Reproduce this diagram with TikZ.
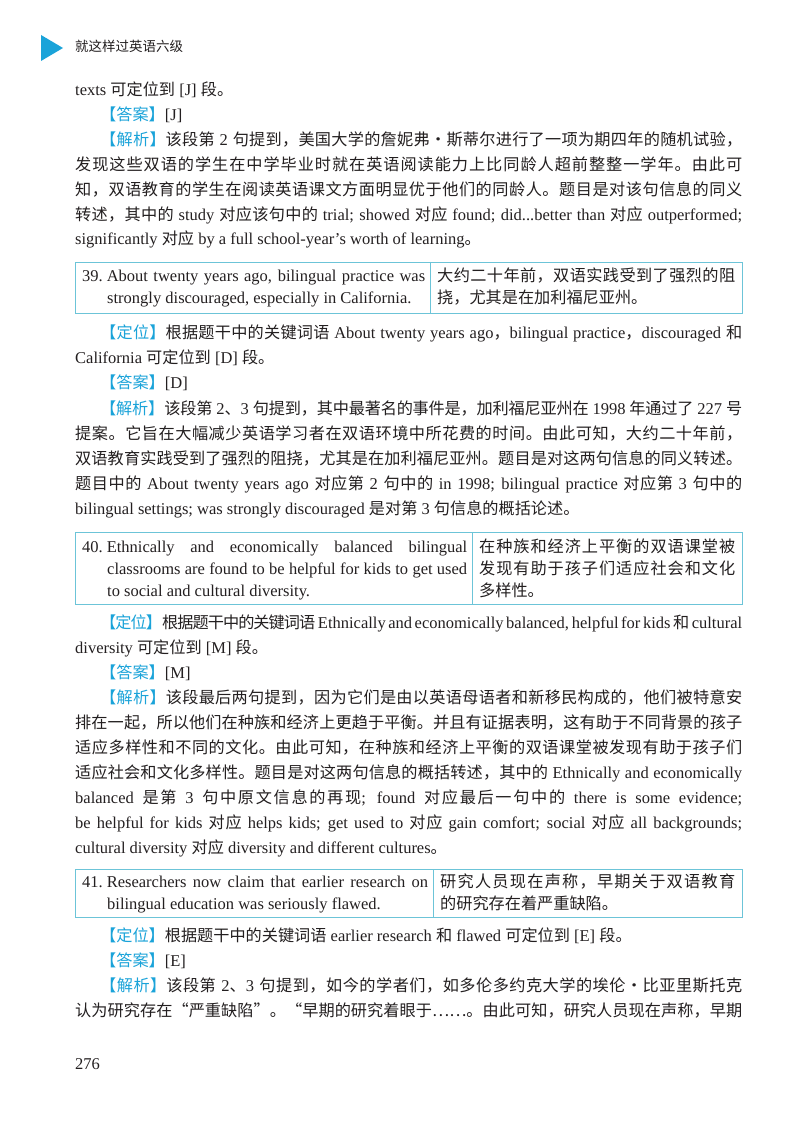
\documentclass[tikz,border=0pt]{standalone}
\usepackage{fontspec}
\setmainfont{Liberation Serif}
\newfontfamily\cjk{Noto Sans CJK SC}[Scale=0.98]
\newfontfamily\hdfont{Noto Sans CJK SC}
\newcount\cjkcc
\cjkcc="4E00
\loop \XeTeXcharclass\cjkcc=1 \advance\cjkcc by 1 \ifnum\cjkcc<"9FA6 \repeat
\XeTeXcharclass"3001=1 \XeTeXcharclass"3002=1 \XeTeXcharclass"FF0C=1
\XeTeXcharclass"FF1B=1 \XeTeXcharclass"FF1A=1 \XeTeXcharclass"201C=1
\XeTeXcharclass"201D=1 \XeTeXcharclass"2026=1 \XeTeXcharclass"00B7=1
\XeTeXcharclass"3010=1 \XeTeXcharclass"3011=1
\XeTeXinterchartoks 1 1 = {\hskip 0pt plus 6pt minus 1pt\relax}
\XeTeXinterchartokenstate=1
\definecolor{ink}{HTML}{231F20}
\definecolor{lblue}{HTML}{1AA3D9}
\definecolor{tblc}{HTML}{6CC4D8}
\newcommand\z[1]{{\cjk #1}}
\newcommand\lab[1]{{\color{lblue}\cjk 【#1】}}
\tikzset{
  txt/.style={anchor=base west,inner sep=0pt,text=ink,font=\fontsize{16.5}{25}\selectfont},
  tbox/.style={draw=tblc,line width=0.9pt}
}
% justified line: name, x, y, width, content
\newcommand\jl[5]{\node[txt] (#1) at (#2,#3) {\hbadness=10000\relax\spaceskip=0.25em plus 1em minus 0.1em\relax\hbox to #4{#5}};}
% natural line
\newcommand\nl[4]{\node[txt] (#1) at (#2,#3) {#4};}
\begin{document}
\begin{tikzpicture}[x=1pt,y=-1pt]
\useasboundingbox (0,0) rectangle (800,1131);
\fill[white] (0,0) rectangle (800,1131);
% header
\fill[lblue] (41,35) -- (41,61) -- (63,48) -- cycle;
\node[anchor=base west,inner sep=0,text=ink,font=\hdfont\fontsize{13.5}{16}\selectfont] (hd) at (75,52) {就这样过英语六级};
% block J
\nl{a1}{75}{96}{texts \z{可定位到} [J] \z{段。}}
\nl{a2}{100}{121}{\lab{答案}[J]}
\jl{a3}{100}{146}{642pt}{\lab{解析}\z{该段第} 2 \z{句提到，美国大学的詹妮弗·斯蒂尔进行了一项为期四年的随机试验，}}
\jl{a4}{75}{171}{667pt}{\z{发现这些双语的学生在中学毕业时就在英语阅读能力上比同龄人超前整整一学年。由此可}}
\jl{a5}{75}{196}{667pt}{\z{知，双语教育的学生在阅读英语课文方面明显优于他们的同龄人。题目是对该句信息的同义}}
\jl{a6}{75}{221}{667pt}{\z{转述，其中的} study \z{对应该句中的} trial; showed \z{对应} found; did...better than \z{对应} outperformed;}
\nl{a7}{75}{245}{significantly \z{对应} by a full school-year's worth of learning\z{。}}
% table 39
\draw[tbox] (75,262) rectangle (742,313);
\draw[tbox] (430,262) -- (430,313);
\jl{t1a}{82}{282}{343pt}{39.\hspace{4pt}About twenty years ago, bilingual practice was}
\nl{t1b}{107}{304}{strongly discouraged, especially in California.}
\jl{t1c}{437}{282}{298pt}{\z{大约二十年前，双语实践受到了强烈的阻}}
\nl{t1d}{437}{304}{\z{挠，尤其是在加利福尼亚州。}}
% block D
\jl{b1}{100}{338}{642pt}{\lab{定位}\z{根据题干中的关键词语} About twenty years ago\z{，}bilingual practice\z{，}discouraged \z{和}}
\nl{b2}{75}{363}{California \z{可定位到} [D] \z{段。}}
\nl{b3}{100}{388}{\lab{答案}[D]}
\jl{b4}{100}{414}{642pt}{\lab{解析}\z{该段第} 2\z{、}3 \z{句提到，其中最著名的事件是，加利福尼亚州在} 1998 \z{年通过了} 227 \z{号}}
\jl{b5}{75}{439}{667pt}{\z{提案。它旨在大幅减少英语学习者在双语环境中所花费的时间。由此可知，大约二十年前，}}
\jl{b6}{75}{464}{667pt}{\z{双语教育实践受到了强烈的阻挠，尤其是在加利福尼亚州。题目是对这两句信息的同义转述。}}
\jl{b7}{75}{489}{667pt}{\z{题目中的} About twenty years ago \z{对应第} 2 \z{句中的} in 1998; bilingual practice \z{对应第} 3 \z{句中的}}
\nl{b8}{75}{514}{bilingual settings; was strongly discouraged \z{是对第} 3 \z{句信息的概括论述。}}
% table 40
\draw[tbox] (75,532) rectangle (742,604);
\draw[tbox] (472,532) -- (472,604);
\jl{t2a}{82}{552}{385pt}{40.\hspace{4pt}Ethnically and economically balanced bilingual}
\jl{t2b}{107}{574}{360pt}{classrooms are found to be helpful for kids to get used}
\nl{t2c}{107}{596}{to social and cultural diversity.}
\jl{t2d}{479}{552}{256pt}{\z{在种族和经济上平衡的双语课堂被}}
\jl{t2e}{479}{574}{256pt}{\z{发现有助于孩子们适应社会和文化}}
\nl{t2f}{479}{596}{\z{多样性。}}
% block M
\jl{c1}{100}{628}{642pt}{\lab{定位}\z{根据题干中的关键词语} Ethnically and economically balanced, helpful for kids \z{和} cultural}
\nl{c2}{75}{653}{diversity \z{可定位到} [M] \z{段。}}
\nl{c3}{100}{678}{\lab{答案}[M]}
\jl{c4}{100}{703}{642pt}{\lab{解析}\z{该段最后两句提到，因为它们是由以英语母语者和新移民构成的，他们被特意安}}
\jl{c5}{75}{728}{667pt}{\z{排在一起，所以他们在种族和经济上更趋于平衡。并且有证据表明，这有助于不同背景的孩子}}
\jl{c6}{75}{753}{667pt}{\z{适应多样性和不同的文化。由此可知，在种族和经济上平衡的双语课堂被发现有助于孩子们}}
\jl{c7}{75}{778}{667pt}{\z{适应社会和文化多样性。题目是对这两句信息的概括转述，其中的} Ethnically and economically}
\jl{c8}{75}{803}{667pt}{balanced \z{是第} 3 \z{句中原文信息的再现}; found \z{对应最后一句中的} there is some evidence;}
\jl{c9}{75}{828}{667pt}{be helpful for kids \z{对应} helps kids; get used to \z{对应} gain comfort; social \z{对应} all backgrounds;}
\nl{c10}{75}{853}{cultural diversity \z{对应} diversity and different cultures\z{。}}
% table 41
\draw[tbox] (75,869) rectangle (742,917);
\draw[tbox] (433,869) -- (433,917);
\jl{t3a}{82}{887}{346pt}{41.\hspace{4pt}Researchers now claim that earlier research on}
\nl{t3b}{107}{909}{bilingual education was seriously flawed.}
\jl{t3c}{440}{887}{295pt}{\z{研究人员现在声称，早期关于双语教育}}
\nl{t3d}{440}{909}{\z{的研究存在着严重缺陷。}}
% block E
\nl{d1}{100}{941}{\lab{定位}\z{根据题干中的关键词语} earlier research \z{和} flawed \z{可定位到} [E] \z{段。}}
\nl{d2}{100}{966}{\lab{答案}[E]}
\jl{d3}{100}{991}{642pt}{\lab{解析}\z{该段第} 2\z{、}3 \z{句提到，如今的学者们，如多伦多约克大学的埃伦·比亚里斯托克}}
\jl{d4}{75}{1016}{667pt}{\z{认为研究存在“严重缺陷”。“早期的研究着眼于……。由此可知，研究人员现在声称，早期}}
% page number
\nl{pg}{75}{1069}{276}
\end{tikzpicture}
\end{document}
